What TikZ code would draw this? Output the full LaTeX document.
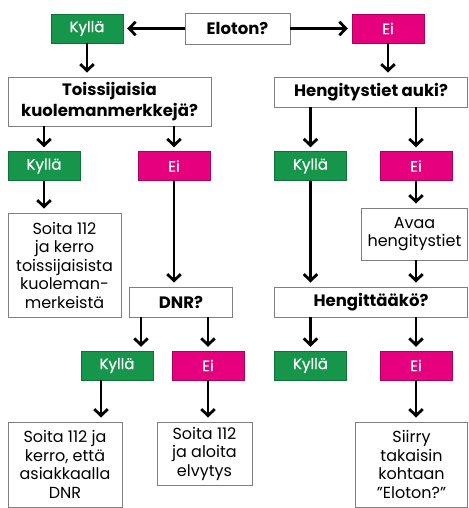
\documentclass[tikz,border=0pt]{standalone}
\usepackage{fontspec}
\setmainfont{Poppins}
\newfontfamily\keskifont[FakeBold=0.5]{Poppins}
\usetikzlibrary{arrows.meta}
\definecolor{vihrea}{HTML}{16964B}
\definecolor{pinkki}{HTML}{E6007E}
\definecolor{reuna}{HTML}{7F7F7F}
\tikzset{
  kysymys/.style={draw=reuna,line width=0.9pt,fill=white,align=center,inner sep=0pt,
    font=\bfseries\fontsize{16.5}{21}\selectfont},
  kylla/.style={fill=vihrea,draw=vihrea!75!black,text=white,inner sep=0pt,
    minimum width=72pt,minimum height=29pt,font=\keskifont\fontsize{15}{16}\selectfont},
  ei/.style={kylla,fill=pinkki,draw=pinkki!75!black},
  ohje/.style={draw=reuna,line width=0.9pt,align=center,inner sep=0pt,
    font=\fontsize{16}{18.5}\selectfont},
  nuoli/.style={line width=2.8pt,-{Straight Barb[length=6.5pt,width=13.5pt]},shorten >=4pt}
}
\begin{document}
\begin{tikzpicture}[x=1pt,y=-1pt]
    \useasboundingbox (0,0) rectangle (468,508);
    % ylin rivi
    \node[kysymys,minimum width=105pt,minimum height=31pt](eloton) at (237.5,28.5){Eloton?};
    \node[kylla](kylla1) at (87,28.5){Kyllä};
    \node[ei](ei1) at (388,28.5){Ei};
    \node[kysymys,minimum width=203pt,minimum height=49pt](toiss) at (109.5,101.5){Toissijaisia\\kuolemanmerkkejä?};
    \node[kysymys,minimum width=193pt,minimum height=30pt](hengit) at (371,92){Hengitystiet auki?};
    % toinen rivi
    \node[kylla](kylla2) at (44,166){Kyllä};
    \node[ei](ei2) at (174,166){Ei};
    \node[kylla](kylla3) at (310.5,166){Kyllä};
    \node[ei](ei3) at (416,166){Ei};
    \node[ohje,minimum width=113pt,minimum height=104pt](soita1) at (64.5,265){Soita 112\\ja kerro\\toissijaisista\\kuoleman-\\merkeistä};
    \node[ohje,minimum width=106pt,minimum height=52pt](avaa) at (414.5,234){Avaa\\hengitystiet};
    \node[kysymys,minimum width=103pt,minimum height=30pt](dnr) at (181,302){DNR?};
    \node[kysymys,minimum width=193pt,minimum height=30pt](hengko) at (371,302){Hengittääkö?};
    % kolmas rivi
    \node[kylla](kylla4) at (117,365.5){Kyllä};
    \node[ei](ei4) at (208,365.5){Ei};
    \node[kylla](kylla5) at (310.5,365.5){Kyllä};
    \node[ei](ei5) at (416,365.5){Ei};
    \node[ohje,minimum width=114pt,minimum height=85pt](soita2) at (65,464.5){Soita 112 ja\\kerro, että\\asiakkaalla\\DNR};
    \node[ohje,minimum width=95pt,minimum height=63pt](soita3) at (204.5,453.5){Soita 112\\ja aloita\\elvytys};
    \node[ohje,minimum width=112pt,minimum height=85pt](siirry) at (411.5,464.5){Siirry\\takaisin\\kohtaan\\”Eloton?”};
    % nuolet
    \draw[nuoli] (eloton) -- (kylla1);
    \draw[nuoli] (eloton) -- (ei1);
    \draw[nuoli] (kylla1.south) -- (kylla1.south |- toiss.north);
    \draw[nuoli] (ei1.south) -- (ei1.south |- hengit.north);
    \draw[nuoli] (toiss.south -| kylla2) -- (kylla2.north);
    \draw[nuoli] (toiss.south -| ei2) -- (ei2.north);
    \draw[nuoli] (hengit.south -| kylla3) -- (kylla3.north);
    \draw[nuoli] (hengit.south -| ei3) -- (ei3.north);
    \draw[nuoli] (kylla2.south) -- (soita1.north -| kylla2);
    \draw[nuoli] (ei2.south) -- (ei2.south |- dnr.north);
    \draw[nuoli] (kylla3.south) -- (kylla3.south |- hengko.north);
    \draw[nuoli] (ei3.south) -- (ei3.south |- avaa.north);
    \draw[nuoli] (avaa.south -| ei3) -- (hengko.north -| ei3);
    \draw[nuoli] (dnr.south -| 141,0) -- (kylla4.north -| 141,0);
    \draw[nuoli] (dnr.south -| ei4) -- (ei4.north);
    \draw[nuoli] (hengko.south -| kylla5) -- (kylla5.north);
    \draw[nuoli] (hengko.south -| ei5) -- (ei5.north);
    \draw[nuoli] (kylla4.south -| 101,0) -- (soita2.north -| 101,0);
    \draw[nuoli] (ei4.south) -- (ei4.south |- soita3.north);
    \draw[nuoli] (ei5.south) -- (ei5.south |- siirry.north);
\end{tikzpicture}
\end{document}
